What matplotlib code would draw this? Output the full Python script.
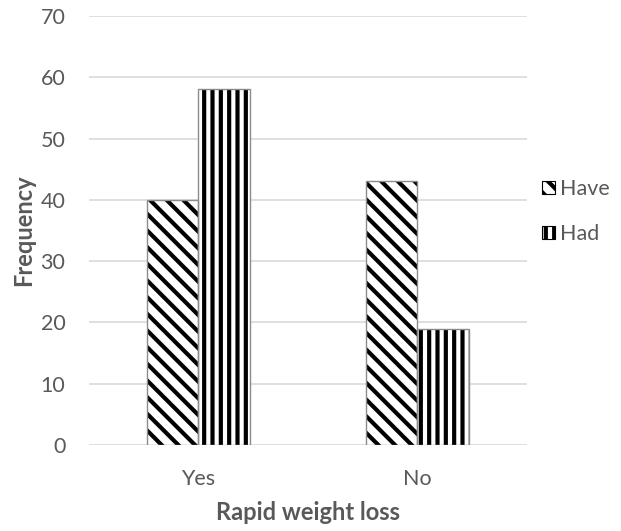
import numpy as np
import matplotlib.pyplot as plt
from matplotlib.patches import Patch

categories = ["Yes", "No"]
have = [40, 43]
had = [58, 19]
yticks = [0, 10, 20, 30, 40, 50, 60, 70]

plt.rcParams['font.family'] = ['Lato', 'DejaVu Sans']
plt.rcParams['hatch.linewidth'] = 3.0

grey = '#595959'

fig = plt.figure(figsize=(6.21, 5.31), dpi=100)
ax = fig.add_axes([0.1433, 0.162, 0.7053, 0.808])

x = np.arange(len(categories))
w = 0.237
# hatch drawn in black first, then a grey outline on top
for vals, off, hatch in [(have, -w / 2, '\\\\'), (had, w / 2, '||')]:
    ax.bar(x + off, vals, width=w, color='white', edgecolor='black',
           linewidth=0, hatch=hatch, zorder=3)
    ax.bar(x + off, vals, width=w, fill=False, edgecolor='#8c8c8c',
           linewidth=1.0, zorder=4)

ax.set_xlim(-0.5, 1.5)
ax.set_ylim(0, 70)
ax.set_yticks(yticks)
ax.set_xticks(x)
ax.set_xticklabels(categories)
ax.tick_params(axis='both', length=0, labelsize=15.5, labelcolor=grey)
ax.tick_params(axis='y', pad=17)
ax.tick_params(axis='x', pad=17)
ax.grid(axis='y', color='#d9d9d9', linewidth=1.2, zorder=0)
for s in ax.spines.values():
    s.set_visible(False)

ax.set_ylabel('Frequency', fontsize=17, fontweight='bold', color=grey, labelpad=4)
ax.set_xlabel('Rapid weight loss', fontsize=17, fontweight='bold', color=grey, labelpad=9)

handles = [Patch(facecolor='white', edgecolor='black', linewidth=0.8, hatch='\\\\', label='Have'),
           Patch(facecolor='white', edgecolor='black', linewidth=0.8, hatch='||', label='Had')]
ax.legend(handles=handles, loc='center left', bbox_to_anchor=(0.99, 0.544),
          frameon=False, fontsize=15.5, labelcolor=grey, handlelength=0.6,
          handleheight=0.6, handletextpad=0.25, labelspacing=1.15)

fig.savefig('out.png', dpi=100)
